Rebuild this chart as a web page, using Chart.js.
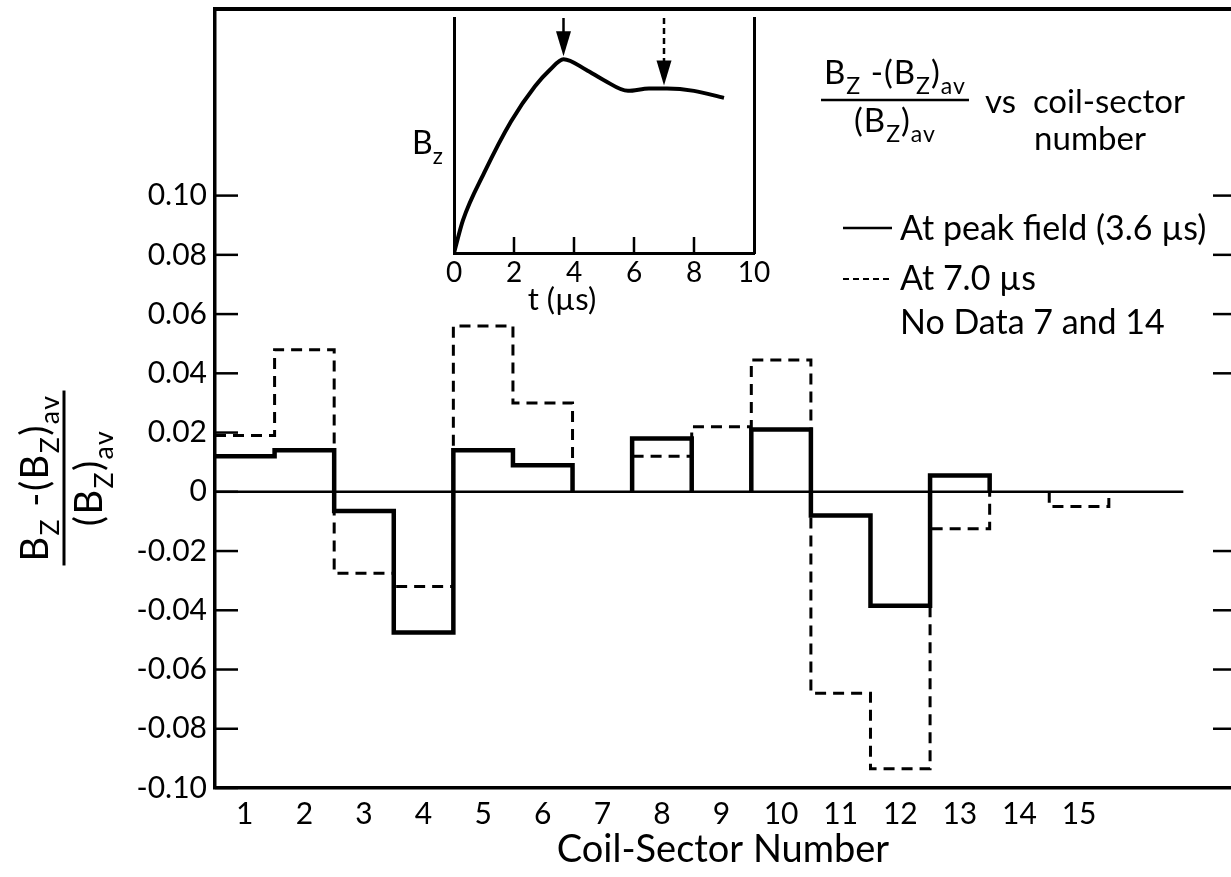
<!DOCTYPE html>
<html>
<head>
<meta charset="utf-8">
<script src="https://cdn.jsdelivr.net/npm/chart.js@4.4.1/dist/chart.umd.min.js"></script>
<style>
  html, body { margin: 0; padding: 0; background: #fff; overflow: hidden; }
  #wrap { position: relative; width: 1231px; height: 877px; }
  #main { position: absolute; left: 0; top: 0; }
  #inset { position: absolute; left: 380px; top: 0; }
</style>
</head>
<body>
<div id="wrap">
  <canvas id="main" width="1231" height="877"></canvas>
  <canvas id="inset" width="400" height="330"></canvas>
</div>
<script>
// coil sectors and the two measured series (null = no data)
const sectors = [1, 2, 3, 4, 5, 6, 7, 8, 9, 10, 11, 12, 13, 14, 15];
const sectorLabels = ['1', '2', '3', '4', '5', '6', '7', '8', '9', '10', '11', '12', '13', '14', '15'];
const peakField = [0.012, 0.014, -0.0065, -0.0475, 0.014, 0.009, null, 0.018, 0, 0.021, -0.008, -0.0385, 0.0055, null, 0];
const at7us = [0.019, 0.048, -0.0275, -0.032, 0.056, 0.030, null, 0.012, 0.022, 0.0445, -0.068, -0.0935, -0.0125, null, -0.005];
const yTicks = [0.10, 0.08, 0.06, 0.04, 0.02, 0, -0.02, -0.04, -0.06, -0.08, -0.10];
const rightTicks = [0.10, 0.08, 0.06, 0.04, -0.02, -0.04, -0.06, -0.08];
const zeroLineEnd = 16.75;

// inset: B_z against time
const insetTime = [0, 0.3, 1.0, 1.9, 2.7, 3.2, 3.65, 4.4, 5.0, 5.8, 6.5, 7.1, 8.0, 9.0];
const insetBz = [0, 0.14, 0.34, 0.56, 0.71, 0.78, 0.825, 0.78, 0.735, 0.69, 0.70, 0.70, 0.69, 0.66];
const insetTicks = [0, 2, 4, 6, 8, 10];
const insetInnerTicks = [2, 4, 6, 8];
const peakArrow = 3.65;
const laterArrow = 7.0;

const FONT = 'Lato';
Chart.defaults.font.family = FONT;
Chart.defaults.color = '#000';

// turn per-sector values into a stepped outline, dropping to zero at gaps
function stepPoints(vals) {
  const pts = [];
  let open = false;
  vals.forEach((v, i) => {
    const k = sectors[i];
    if (v === null || v === 0) {   // 0 lies on the zero line, nothing extra to draw
      if (open) { pts.push({x: k - 0.5, y: 0}, {x: k - 0.5, y: null}); open = false; }
      return;
    }
    if (!open && i > 0) pts.push({x: k - 0.5, y: 0});
    pts.push({x: k - 0.5, y: v}, {x: k + 0.5, y: v});
    open = true;
  });
  if (open) pts.push({x: sectors[sectors.length - 1] + 0.5, y: 0});
  return pts;
}

function drawRich(ctx, parts, x, y, size, align) {
  const runs = parts.map(([t, sub]) => {
    const fs = sub ? size * 0.7 : size;
    ctx.font = fs + 'px ' + FONT;
    return {t, sub, fs, w: ctx.measureText(t).width};
  });
  const total = runs.reduce((s, r) => s + r.w, 0);
  let cx = align === 'center' ? x - total / 2 : x;
  ctx.textAlign = 'left';
  ctx.textBaseline = 'alphabetic';
  runs.forEach(r => {
    ctx.font = r.fs + 'px ' + FONT;
    ctx.fillText(r.t, cx, r.sub ? y + size * 0.3 : y);
    cx += r.w;
  });
  return total;
}

const numer = [['B', 0], ['Z', 1], [' -(B', 0], ['Z', 1], [')', 0], ['av', 1]];
const denom = [['(B', 0], ['Z', 1], [')', 0], ['av', 1]];

const mainDecor = {
  id: 'mainDecor',
  afterDraw(chart) {
    const {ctx, chartArea: a, scales: {y}} = chart;
    ctx.save();
    ctx.strokeStyle = '#000';
    ctx.fillStyle = '#000';
    ctx.lineWidth = 2.5;
    yTicks.forEach(v => {
      const py = y.getPixelForValue(v);
      ctx.beginPath(); ctx.moveTo(a.left, py); ctx.lineTo(a.left + 23, py); ctx.stroke();
    });
    rightTicks.forEach(v => {
      const py = y.getPixelForValue(v);
      ctx.beginPath(); ctx.moveTo(a.right - 18, py); ctx.lineTo(a.right, py); ctx.stroke();
    });
    // top frame
    ctx.lineWidth = 4;
    ctx.beginPath(); ctx.moveTo(a.left - 1.5, a.top); ctx.lineTo(a.right, a.top); ctx.stroke();

    // rotated y title
    ctx.save();
    ctx.translate(64, 478);
    ctx.rotate(-Math.PI / 2);
    ctx.letterSpacing = '1.5px';
    const w1 = drawRich(ctx, numer, 0, -16, 38, 'center');
    ctx.lineWidth = 3;
    ctx.beginPath(); ctx.moveTo(-w1 / 2 - 4, 0); ctx.lineTo(w1 / 2 + 4, 0); ctx.stroke();
    drawRich(ctx, denom, 0, 38, 38, 'center');
    ctx.letterSpacing = '0px';
    ctx.restore();

    // top-right caption
    ctx.letterSpacing = '1px';
    const w2 = drawRich(ctx, numer, 895, 84, 33, 'center');
    ctx.lineWidth = 2.5;
    ctx.beginPath(); ctx.moveTo(895 - w2 / 2 - 3, 100); ctx.lineTo(895 + w2 / 2 + 3, 100); ctx.stroke();
    drawRich(ctx, denom, 895, 132, 33, 'center');
    ctx.letterSpacing = '0px';
    ctx.font = '33px ' + FONT;
    ctx.textAlign = 'left';
    ctx.fillText('vs  coil-sector', 985, 113);
    ctx.textAlign = 'center';
    ctx.fillText('number', 1090, 150);

    // legend
    ctx.lineWidth = 2.5;
    ctx.beginPath(); ctx.moveTo(843, 228); ctx.lineTo(892, 228); ctx.stroke();
    ctx.lineWidth = 2;
    ctx.setLineDash([6, 4]);
    ctx.beginPath(); ctx.moveTo(843, 279); ctx.lineTo(892, 279); ctx.stroke();
    ctx.setLineDash([]);
    ctx.textAlign = 'left';
    ctx.font = '34px ' + FONT;
    ctx.fillText('At peak field (3.6 µs)', 900, 240);
    ctx.fillText('At 7.0 µs', 900, 290);
    ctx.fillText('No Data 7 and 14', 900, 334);
    ctx.restore();
  }
};

new Chart(document.getElementById('main'), {
  type: 'line',
  data: {
    datasets: [
      {data: [{x: 0.5, y: 0}, {x: zeroLineEnd, y: 0}], borderColor: '#000', borderWidth: 2.5, pointRadius: 0},
      {data: stepPoints(at7us), borderColor: '#000', borderWidth: 3, borderDash: [11, 7], pointRadius: 0, spanGaps: false},
      {data: stepPoints(peakField), borderColor: '#000', borderWidth: 4.5, pointRadius: 0, spanGaps: false}
    ]
  },
  options: {
    responsive: false,
    animation: false,
    events: [],
    layout: {padding: {top: 9, right: 0, left: 0, bottom: 0}},
    elements: {line: {tension: 0, borderJoinStyle: 'miter', borderCapStyle: 'butt'}},
    plugins: {legend: {display: false}, tooltip: {enabled: false}},
    scales: {
      x: {
        type: 'linear', min: 0.5, max: 17.55,
        afterBuildTicks: s => { s.ticks = sectors.map(v => ({value: v})); },
        afterFit: s => { s.height = 89; s.paddingLeft = 0; s.paddingRight = 0; },
        ticks: {font: {size: 30}, padding: 8, maxRotation: 0, autoSkip: false,
                callback: v => sectorLabels[sectors.indexOf(v)]},
        grid: {display: false, drawTicks: false},
        border: {display: true, color: '#000', width: 3.5},
        title: {display: true, text: 'Coil-Sector Number', font: {size: 38}, padding: {top: 0, bottom: 4}}
      },
      y: {
        type: 'linear', min: -0.10, max: 0.163,
        afterBuildTicks: s => { s.ticks = yTicks.map(v => ({value: v})); },
        afterFit: s => { s.width = 215; s.paddingTop = 0; s.paddingBottom = 0; },
        ticks: {font: {size: 30}, padding: 8,
                callback: v => (Math.abs(v) < 1e-9 ? '0' : v.toFixed(2))},
        grid: {display: false, drawTicks: false},
        border: {display: true, color: '#000', width: 3.5}
      }
    }
  },
  plugins: [mainDecor]
});

function bzAt(t) {
  for (let i = 1; i < insetTime.length; i++) {
    if (t <= insetTime[i]) {
      const f = (t - insetTime[i - 1]) / (insetTime[i] - insetTime[i - 1]);
      return insetBz[i - 1] + f * (insetBz[i] - insetBz[i - 1]);
    }
  }
  return insetBz[insetBz.length - 1];
}

function arrow(ctx, x, top, tip, dashed) {
  const headLen = 25;
  ctx.lineWidth = 2.5;
  if (dashed) ctx.setLineDash([6, 4]);
  ctx.beginPath(); ctx.moveTo(x, top); ctx.lineTo(x, tip - headLen + 2); ctx.stroke();
  ctx.setLineDash([]);
  ctx.beginPath();
  ctx.moveTo(x - 7.5, tip - headLen); ctx.lineTo(x + 7.5, tip - headLen); ctx.lineTo(x, tip);
  ctx.closePath(); ctx.fill();
}

const insetDecor = {
  id: 'insetDecor',
  afterDraw(chart) {
    const {ctx, chartArea: a, scales: {x, y}} = chart;
    ctx.save();
    ctx.strokeStyle = '#000';
    ctx.fillStyle = '#000';
    ctx.lineWidth = 2.5;
    insetInnerTicks.forEach(v => {
      const px = x.getPixelForValue(v);
      ctx.beginPath(); ctx.moveTo(px, a.bottom); ctx.lineTo(px, a.bottom - 16); ctx.stroke();
    });
    arrow(ctx, x.getPixelForValue(peakArrow), a.top, y.getPixelForValue(bzAt(peakArrow)) - 3, false);
    arrow(ctx, x.getPixelForValue(laterArrow), a.top, y.getPixelForValue(bzAt(laterArrow)) - 3, true);
    drawRich(ctx, [['B', 0], ['z', 1]], a.left - 42, 154, 32, 'left');
    ctx.font = '31px ' + FONT;
    ctx.textAlign = 'center';
    ctx.textBaseline = 'alphabetic';
    ctx.fillText('t (µs)', x.getPixelForValue(3.6), 310);
    ctx.restore();
  }
};

new Chart(document.getElementById('inset'), {
  type: 'line',
  data: {
    datasets: [{
      data: insetTime.map((t, i) => ({x: t, y: insetBz[i]})),
      borderColor: '#000', borderWidth: 4, pointRadius: 0, cubicInterpolationMode: 'monotone'
    }]
  },
  options: {
    responsive: false,
    animation: false,
    events: [],
    layout: {padding: {top: 18, right: 26, left: 0, bottom: 0}},
    plugins: {legend: {display: false}, tooltip: {enabled: false}},
    scales: {
      x: {
        type: 'linear', min: 0, max: 10,
        afterBuildTicks: s => { s.ticks = insetTicks.map(v => ({value: v})); },
        afterFit: s => { s.height = 77; s.paddingLeft = 0; s.paddingRight = 0; },
        ticks: {font: {size: 28}, padding: 3, maxRotation: 0, autoSkip: false},
        grid: {display: false, drawTicks: false},
        border: {display: true, color: '#000', width: 3}
      },
      y: {
        type: 'linear', min: 0, max: 1,
        afterFit: s => { s.width = 74; s.paddingTop = 0; s.paddingBottom = 0; },
        ticks: {display: false},
        grid: {display: false, drawTicks: false},
        border: {display: true, color: '#000', width: 3}
      },
      y2: {
        type: 'linear', position: 'right', min: 0, max: 1,
        afterFit: s => { s.width = 0; s.paddingTop = 0; s.paddingBottom = 0; },
        ticks: {display: false},
        grid: {display: false, drawTicks: false},
        border: {display: true, color: '#000', width: 3}
      }
    }
  },
  plugins: [insetDecor]
});
</script>
</body>
</html>
